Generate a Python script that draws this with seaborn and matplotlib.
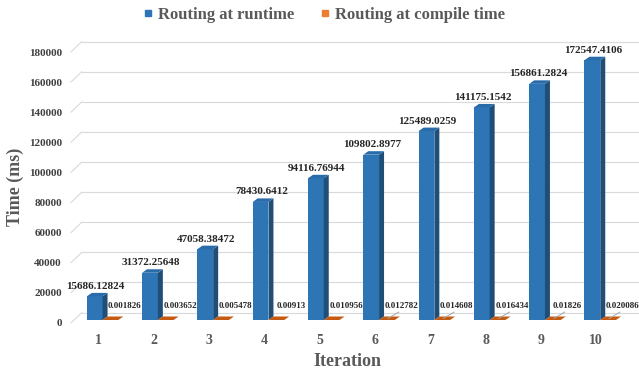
import numpy as np
import pandas as pd
import seaborn as sns
import matplotlib
matplotlib.use("Agg")
import matplotlib.pyplot as plt
import matplotlib.transforms as mtransforms
from matplotlib.patches import Polygon
from matplotlib.lines import Line2D

# ---- data -------------------------------------------------------------
iterations = ["1", "2", "3", "4", "5", "6", "7", "8", "9", "10"]
runtime_ms = [15686.12824, 31372.25648, 47058.38472, 78430.6412, 94116.76944,
              109802.8977, 125489.0259, 141175.1542, 156861.2824, 172547.4106]
compile_ms = [0.001826, 0.003652, 0.005478, 0.00913, 0.010956,
              0.012782, 0.014608, 0.016434, 0.01826, 0.020086]
series_names = ["Routing at runtime", "Routing at compile time"]
y_ticks = list(range(0, 180001, 20000))

df = pd.DataFrame({
    "Iteration": iterations * 2,
    "Time": runtime_ms + compile_ms,
    "Series": [series_names[0]] * len(iterations) + [series_names[1]] * len(iterations),
})

# ---- style ------------------------------------------------------------
sns.set_theme(style="white")
plt.rcParams["font.family"] = ["Liberation Serif", "DejaVu Serif"]
plt.rcParams["font.weight"] = "bold"

BLUE, BLUE_SIDE, BLUE_TOP = "#2E75B6", "#1F4E79", "#2A6BA9"
ORANGE, ORANGE_SIDE, ORANGE_TOP = "#ED7D31", "#A8480C", "#C55A11"
GRID = "#D9D9D9"
TEXT_GRAY = "#595959"
DPI = 100
W_PX, H_PX = 639, 372

fig = plt.figure(figsize=(W_PX / DPI, H_PX / DPI), dpi=DPI)
# front plane of the 3-D box, in pixels
left_px, right_px, bottom_px, top_px = 70.9, 623.9, 323.0, 52.0
ax = fig.add_axes([left_px / W_PX, (H_PX - bottom_px) / H_PX,
                   (right_px - left_px) / W_PX, (bottom_px - top_px) / H_PX])

sns.barplot(data=df, x="Iteration", y="Time", hue="Series",
            hue_order=series_names, palette=[BLUE, ORANGE], width=0.57,
            saturation=1, errorbar=None, legend=False, ax=ax, zorder=3)

ax.set_xlim(-0.5, 9.5)
ax.set_ylim(0, 180000)
ax.set_yticks(y_ticks)
ax.set_yticklabels([str(v) for v in y_ticks])
for s in ax.spines.values():
    s.set_visible(False)
ax.grid(False)
ax.set_xlabel("")
ax.set_ylabel("")
ax.tick_params(axis="y", length=0, pad=6.5, labelsize=8, labelcolor="#404040")
ax.tick_params(axis="x", length=0, pad=8, labelsize=10, labelcolor=TEXT_GRAY)
for t in ax.get_xticklabels() + ax.get_yticklabels():
    t.set_fontweight("bold")

# pixel <-> data conversion for the pseudo-3-D depth
px_per_x = (right_px - left_px) / 10.0
px_per_y = (bottom_px - top_px) / 180000.0

def to_data(dx_px, dy_px):
    return dx_px / px_per_x, dy_px / px_per_y

def px_shift(dx, dy):
    return mtransforms.ScaledTranslation(dx / DPI, dy / DPI, fig.dpi_scale_trans)

# back wall gridlines and the floor diagonals
wall_dx, wall_dy = to_data(11, 10.5)
for v in y_ticks:
    ax.plot([-0.5 + wall_dx, 9.7 + wall_dx], [v + wall_dy, v + wall_dy],
            color=GRID, lw=0.8, zorder=1, clip_on=False)
    ax.plot([-0.5, -0.5 + wall_dx], [v, v + wall_dy],
            color=GRID, lw=0.8, zorder=1, clip_on=False)

# bars sit slightly inside the box
bar_tr = ax.transData + px_shift(4, 3)
depth_dx, depth_dy = to_data(5, 3.5)
lead_a = to_data(1, 1.5)
lead_b = to_data(12, 8)

faces = [(BLUE_SIDE, BLUE_TOP), (ORANGE_SIDE, ORANGE_TOP)]
for k, container in enumerate(ax.containers):
    side_c, top_c = faces[k]
    for i, bar in enumerate(container.patches):
        bar.set_transform(bar_tr)
        bar.set_edgecolor("none")
        x0, w, h = bar.get_x(), bar.get_width(), bar.get_height()
        x1 = x0 + w
        side = Polygon([(x1, 0), (x1, h), (x1 + depth_dx, h + depth_dy),
                        (x1 + depth_dx, depth_dy)], closed=True,
                       facecolor=side_c, edgecolor="none", zorder=3,
                       transform=bar_tr)
        top = Polygon([(x0, h), (x1, h), (x1 + depth_dx, h + depth_dy),
                       (x0 + depth_dx, h + depth_dy)], closed=True,
                      facecolor=top_c, edgecolor="none", zorder=3,
                      transform=bar_tr)
        ax.add_patch(side)
        ax.add_patch(top)

        cx = x0 + w / 2
        if k == 0:
            ax.annotate(f"{runtime_ms[i]}", xy=(cx, h), xycoords=bar_tr,
                        xytext=(1, 10), textcoords="offset pixels",
                        ha="center", va="center", fontsize=8,
                        fontweight="bold", color="#262626", zorder=5,
                        annotation_clip=False)
        else:
            if i >= 5:
                # leader line from the flat bar up to its label
                ax.add_line(Line2D([cx + lead_a[0], cx + lead_b[0]],
                                   [h + lead_a[1], h + lead_b[1]],
                                   color="#A6A6A6", lw=0.7, zorder=4,
                                   transform=bar_tr, clip_on=False))
            ax.annotate(f"{compile_ms[i]}", xy=(cx, 0), xycoords=bar_tr,
                        xytext=(14.5, 13.5), textcoords="offset pixels",
                        ha="center", va="center", fontsize=6.5,
                        fontweight="bold", color="#262626", zorder=5,
                        annotation_clip=False)

# axis titles
fig.text(15 / W_PX, (H_PX - 187) / H_PX, "Time (ms)", rotation=90,
         ha="center", va="center", fontsize=13, fontweight="bold",
         color=TEXT_GRAY)
fig.text(347 / W_PX, (H_PX - 362) / H_PX, "Iteration",
         ha="center", va="center", fontsize=13, fontweight="bold",
         color=TEXT_GRAY)

# legend
handles = [Line2D([], [], marker="s", linestyle="none", markersize=4.6,
                  markerfacecolor=c, markeredgecolor=c)
           for c in (BLUE, ORANGE)]
leg = fig.legend(handles, series_names, loc="center",
                 bbox_to_anchor=(324 / W_PX, (H_PX - 15) / H_PX), ncol=2,
                 frameon=False, handlelength=0.5, handletextpad=0.35,
                 columnspacing=1.6, borderaxespad=0, borderpad=0,
                 prop={"size": 12, "weight": "bold"})
for t in leg.get_texts():
    t.set_color(TEXT_GRAY)

fig.savefig("out.png", dpi=DPI)
